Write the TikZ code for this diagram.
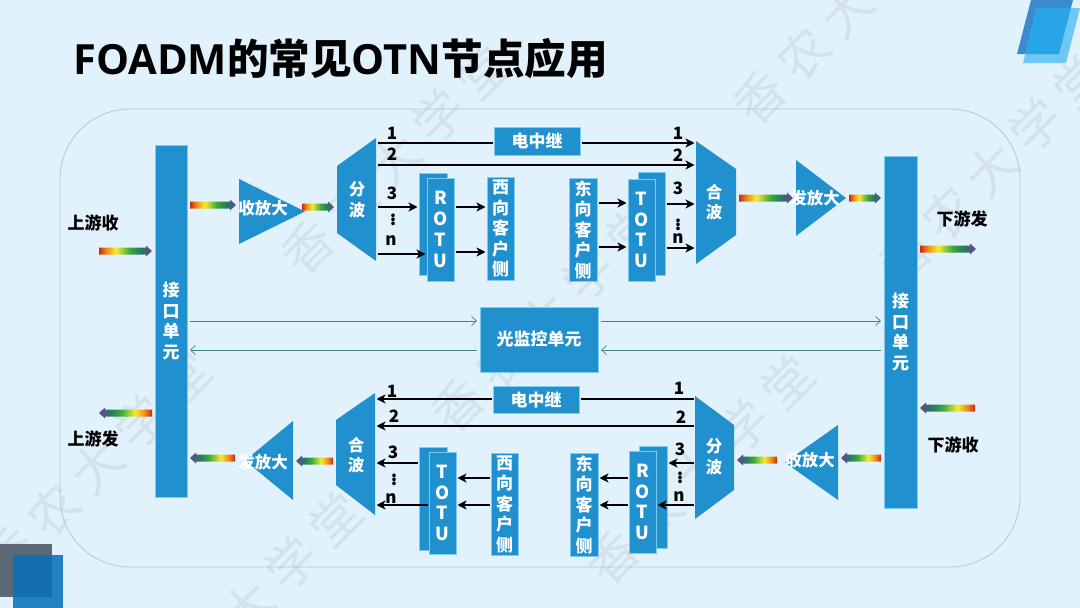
\documentclass[tikz,border=0pt]{standalone}
\usepackage{fontspec}
\setmainfont{Noto Sans CJK SC}
\newfontfamily\latinfont{Open Sans}
\usepackage{xcolor}
\usetikzlibrary{positioning,arrows.meta,calc}

\definecolor{pagebg}{HTML}{E1F2FC}
\definecolor{unitblue}{HTML}{2090CE}
\definecolor{unitedge}{HTML}{7CCBF0}
\definecolor{framegray}{HTML}{B9C6CD}
\definecolor{markgray}{HTML}{D3E2EB}
\definecolor{superv}{HTML}{3F8878}
\definecolor{cornerA}{RGB}{60,140,205}
\definecolor{cornerB}{RGB}{110,200,245}
\definecolor{cornerC}{RGB}{40,165,230}
\definecolor{cornerD}{RGB}{90,105,115}
\definecolor{cornerE}{RGB}{35,130,195}
\definecolor{cornerF}{RGB}{20,110,175}
\definecolor{specA}{RGB}{200,40,20}
\definecolor{specB}{RGB}{240,140,20}
\definecolor{specC}{RGB}{245,235,50}
\definecolor{specD}{RGB}{60,170,60}
\definecolor{specE}{RGB}{40,120,100}
\definecolor{specF}{RGB}{85,85,130}
\pgfdeclarehorizontalshading{specbar}{100bp}{color(0bp)=(specA); color(25bp)=(specA); color(32bp)=(specB); color(41bp)=(specC); color(54bp)=(specD); color(64bp)=(specE); color(71bp)=(specF); color(100bp)=(specF)}

\newcommand{\specarrow}[3]{%
  \coordinate (sa) at ($(#1)!3pt!(#2)$);
  \coordinate (se) at ($(#2)!3pt!(#1)$);
  \coordinate (sh) at ($(se)!6pt!(sa)$);
  \shade[shading=specbar, shading angle=#3] ($(sa)!3.5pt!90:(se)$) -- ($(sh)!3.5pt!90:(se)$) -- ($(sh)!5.5pt!90:(se)$) -- (se) -- ($(sh)!5.5pt!-90:(se)$) -- ($(sh)!3.5pt!-90:(se)$) -- ($(sa)!3.5pt!-90:(se)$) -- cycle;
}

\begin{document}
\begin{tikzpicture}[x=1pt, y=-1pt,
  unit/.style={draw=unitedge, line width=.3pt, fill=unitblue, inner sep=0pt, outer sep=0pt, text=white, align=center, font=\fontsize{17}{20.5}\selectfont\bfseries},
  vlatin/.style={font=\fontsize{18}{20.8}\selectfont\bfseries},
  shapebox/.style={inner sep=0pt, outer sep=0pt},
  wedge/.style={fill=unitblue},
  onwedge/.style={text=white, align=center, inner sep=0pt, font=\fontsize{16.5}{20.5}\selectfont\bfseries},
  side/.style={font=\fontsize{17}{18}\selectfont\bfseries, inner sep=0pt},
  num/.style={font=\fontsize{17}{18}\selectfont\bfseries, inner sep=0pt},
  arr/.style={-{Stealth[length=9pt,width=9pt,inset=2.5pt]}, line width=1.8pt, black, shorten >=1.5pt, shorten <=1.5pt},
  plain/.style={line width=1.8pt, black, shorten >=1.5pt, shorten <=1.5pt},
  sup/.style={-{Straight Barb[length=5pt,width=9pt]}, line width=.7pt, superv, shorten >=3pt, shorten <=3pt}
]
\useasboundingbox (0,0) rectangle (1080,608);
\fill[pagebg] (0,0) rectangle (1080,608);

\foreach \mx/\my [count=\i] in {395/160, 847/10, 992/169, 97/466, 248/607, 545/318, 700/470}
  \node[rotate=45, text=markgray, inner sep=0pt, font=\fontsize{50}{50}\selectfont] (mark\i) at (\mx,\my) {香\hspace{12pt}农\hspace{12pt}大\hspace{12pt}学\hspace{12pt}堂};

\fill[cornerA] (1031,0) -- (1073,0) -- (1059,54) -- (1017,54) -- cycle;
\fill[cornerB] (1037,8) -- (1080,8) -- (1066,63) -- (1023,63) -- cycle;
\begin{scope}
  \clip (1031,0) -- (1073,0) -- (1059,54) -- (1017,54) -- cycle;
  \fill[cornerC] (1037,8) -- (1080,8) -- (1066,63) -- (1023,63) -- cycle;
\end{scope}
\fill[cornerD] (0,544) rectangle (52,597);
\fill[cornerE] (13,555) rectangle (63,608);
\fill[cornerF] (13,555) rectangle (52,597);

\node[inner sep=0pt, anchor=west, font=\fontsize{41.6}{43}\selectfont\bfseries] (title) at (73,59) {{\latinfont FOADM}的常见{\latinfont OTN}节点应用};
\draw[framegray, line width=.8pt, rounded corners=70pt] (60,109) rectangle (1020,567);

\node[unit, minimum width=32, minimum height=352] (ifL) at (171,321) {接\\口\\单\\元};
\node[unit, minimum width=33, minimum height=352] (ifR) at (900.5,332) {接\\口\\单\\元};
\node[unit, minimum width=118, minimum height=65] (mon) at (539,339.5) {光监控单元};

\node[shapebox, minimum width=66, minimum height=65] (ampA) at (272,211.5) {};
\node[shapebox, minimum width=50, minimum height=76] (ampB) at (821,198) {};
\node[shapebox, minimum width=48, minimum height=79] (ampC) at (269,460.5) {};
\node[shapebox, minimum width=53, minimum height=75] (ampD) at (811.5,462.5) {};
\fill[wedge] (ampA.north west) -- (ampA.east) -- (ampA.south west) -- cycle;
\fill[wedge] (ampB.north west) -- (ampB.east) -- (ampB.south west) -- cycle;
\fill[wedge] (ampC.north east) -- (ampC.west) -- (ampC.south east) -- cycle;
\fill[wedge] (ampD.north east) -- (ampD.west) -- (ampD.south east) -- cycle;
\node[onwedge] (ampAt) at (263,208) {收放大};
\node[onwedge] (ampBt) at (815,198) {发放大};
\node[onwedge] (ampCt) at (263,462) {发放大};
\node[onwedge] (ampDt) at (810,460) {收放大};

\node[shapebox, minimum width=39, minimum height=123] (splitT) at (356.5,199.5) {};
\node[shapebox, minimum width=40, minimum height=123] (combT) at (716,202.5) {};
\node[shapebox, minimum width=39, minimum height=122] (combB) at (355.5,454) {};
\node[shapebox, minimum width=39, minimum height=123] (splitB) at (714.5,457.5) {};
\fill[wedge] (splitT.north east) -- (splitT.south east) -- ($(splitT.south west)+(0,-28)$) -- ($(splitT.north west)+(0,28)$) -- cycle;
\fill[wedge] (combT.north west) -- (combT.south west) -- ($(combT.south east)+(0,-29)$) -- ($(combT.north east)+(0,28)$) -- cycle;
\fill[wedge] (combB.north east) -- (combB.south east) -- ($(combB.south west)+(0,-30)$) -- ($(combB.north west)+(0,27)$) -- cycle;
\fill[wedge] (splitB.north west) -- (splitB.south west) -- ($(splitB.south east)+(0,-29)$) -- ($(splitB.north east)+(0,29)$) -- cycle;
\node[onwedge] (splitTt) at (357,200) {分\\波};
\node[onwedge] (combTt) at (714,202) {合\\波};
\node[onwedge] (combBt) at (356,455) {合\\波};
\node[onwedge] (splitBt) at (714,457) {分\\波};

\node[unit, minimum width=86, minimum height=28] (relayT) at (537,141) {电中继};
\node[unit, minimum width=86, minimum height=27] (relayB) at (536,399.5) {电中继};

\node[unit, minimum width=28, minimum height=102] (rotuTb) at (433,224) {};
\node[unit, vlatin, minimum width=27, minimum height=103] (rotuT) at (440.5,229.5) {R\\O\\T\\U};
\node[unit, minimum width=27, minimum height=103] (westT) at (500.5,228.5) {西\\向\\客\\户\\侧};
\node[unit, minimum width=28, minimum height=103] (eastT) at (583,229.5) {东\\向\\客\\户\\侧};
\node[unit, minimum width=27, minimum height=103] (totuTb) at (651.5,223.5) {};
\node[unit, vlatin, minimum width=27, minimum height=102] (totuT) at (641.5,230) {T\\O\\T\\U};

\node[unit, minimum width=28, minimum height=103] (totuBb) at (433,498.5) {};
\node[unit, vlatin, minimum width=27, minimum height=102] (totuB) at (442.5,503) {T\\O\\T\\U};
\node[unit, minimum width=27, minimum height=102] (westB) at (504.5,504) {西\\向\\客\\户\\侧};
\node[unit, minimum width=28, minimum height=103] (eastB) at (584,504.5) {东\\向\\客\\户\\侧};
\node[unit, minimum width=28, minimum height=102] (rotuBb) at (653,497) {};
\node[unit, vlatin, minimum width=27, minimum height=102] (rotuB) at (642.5,502) {R\\O\\T\\U};

\draw[plain] (splitT.east |- 0,143) -- (relayT.west |- 0,143);
\draw[arr] (relayT.east |- 0,143) -- (combT.west |- 0,143);
\draw[arr] (splitT.east |- 0,165) -- (combT.west |- 0,165);
\draw[arr] (splitT.east |- 0,207) -- (rotuTb.west |- 0,207);
\draw[arr] (splitT.east |- 0,254) -- (rotuT.west |- 0,254);
\draw[arr] (rotuT.east |- 0,207) -- (westT.west |- 0,207);
\draw[arr] (rotuT.east |- 0,252) -- (westT.west |- 0,252);
\draw[arr] (eastT.east |- 0,203) -- (totuT.west |- 0,203);
\draw[arr] (eastT.east |- 0,247) -- (totuT.west |- 0,247);
\draw[arr] (totuTb.east |- 0,204) -- (combT.west |- 0,204);
\draw[arr] (totuTb.east |- 0,248) -- (combT.west |- 0,248);

\draw[plain] (splitB.west |- 0,399) -- (relayB.east |- 0,399);
\draw[arr] (relayB.west |- 0,399) -- (combB.east |- 0,399);
\draw[arr] (splitB.west |- 0,426) -- (combB.east |- 0,426);
\draw[arr] (totuBb.west |- 0,463) -- (combB.east |- 0,463);
\draw[arr] (totuB.west |- 0,505) -- (combB.east |- 0,505);
\draw[arr] (westB.west |- 0,478) -- (totuB.east |- 0,478);
\draw[arr] (westB.west |- 0,505) -- (totuB.east |- 0,505);
\draw[arr] (rotuB.west |- 0,478) -- (eastB.east |- 0,478);
\draw[arr] (rotuB.west |- 0,505) -- (eastB.east |- 0,505);
\draw[arr] (splitB.west |- 0,463) -- (rotuBb.east |- 0,463);
\draw[arr] (splitB.west |- 0,505) -- (rotuB.east |- 0,505);

\draw[sup] (ifL.east |- 0,321) -- (mon.west |- 0,321);
\draw[sup] (mon.east |- 0,321) -- (ifR.west |- 0,321);
\draw[sup] (ifR.west |- 0,350) -- (mon.east |- 0,350);
\draw[sup] (mon.west |- 0,350) -- (ifL.east |- 0,350);

\node[num] (t1) at (392,133) {1};
\node[num] (t2) at (392,154) {2};
\node[num] (t3) at (392,193) {3};
\node[num] (t4) at (393,217) {$\vdots$};
\node[num] (t5) at (391,241) {n};
\node[num] (t6) at (678,133) {1};
\node[num] (t7) at (678,155) {2};
\node[num] (t8) at (678,188) {3};
\node[num] (t9) at (678,222) {$\vdots$};
\node[num] (t10) at (678,239) {n};
\node[num] (b1) at (392,391) {1};
\node[num] (b2) at (394,416) {2};
\node[num] (b3) at (393,452) {3};
\node[num] (b4) at (394,477) {$\vdots$};
\node[num] (b5) at (391,499) {n};
\node[num] (b6) at (679,388) {1};
\node[num] (b7) at (681,417) {2};
\node[num] (b8) at (680,449) {3};
\node[num] (b9) at (680,475) {$\vdots$};
\node[num] (b10) at (679,497) {n};

\node[side] (upRx) at (93,223) {上游收};
\node[side] (upTx) at (93,439) {上游发};
\node[side] (downTx) at (962,219) {下游发};
\node[side] (downRx) at (953,445) {下游收};

\coordinate (upRxEnd) at (96,251);
\coordinate (upTxEnd) at (96,413);
\coordinate (downTxEnd) at (979,249);
\coordinate (downRxEnd) at (978,408);
\coordinate (ampAout) at (299,207);
\coordinate (ampCout) at (238,458);
\coordinate (ampDout) at (780,460);
\specarrow{upRxEnd}{ifL.west |- upRxEnd}{0}
\specarrow{ifL.east |- 0,205}{ampA.west |- 0,205}{0}
\specarrow{ampAout}{splitT.west |- ampAout}{0}
\specarrow{combT.east |- 0,198}{ampB.west |- 0,198}{0}
\specarrow{ampB.east}{ifR.west |- ampB.east}{0}
\specarrow{ifR.east |- downTxEnd}{downTxEnd}{0}
\specarrow{ifL.west |- upTxEnd}{upTxEnd}{180}
\specarrow{ampCout}{ifL.east |- ampCout}{180}
\specarrow{combB.west |- 0,461}{ampC.east |- 0,461}{180}
\specarrow{ampDout}{splitB.east |- ampDout}{180}
\specarrow{ifR.west |- 0,458}{ampD.east |- 0,458}{180}
\specarrow{downRxEnd}{ifR.east |- downRxEnd}{180}
\end{tikzpicture}
\end{document}
